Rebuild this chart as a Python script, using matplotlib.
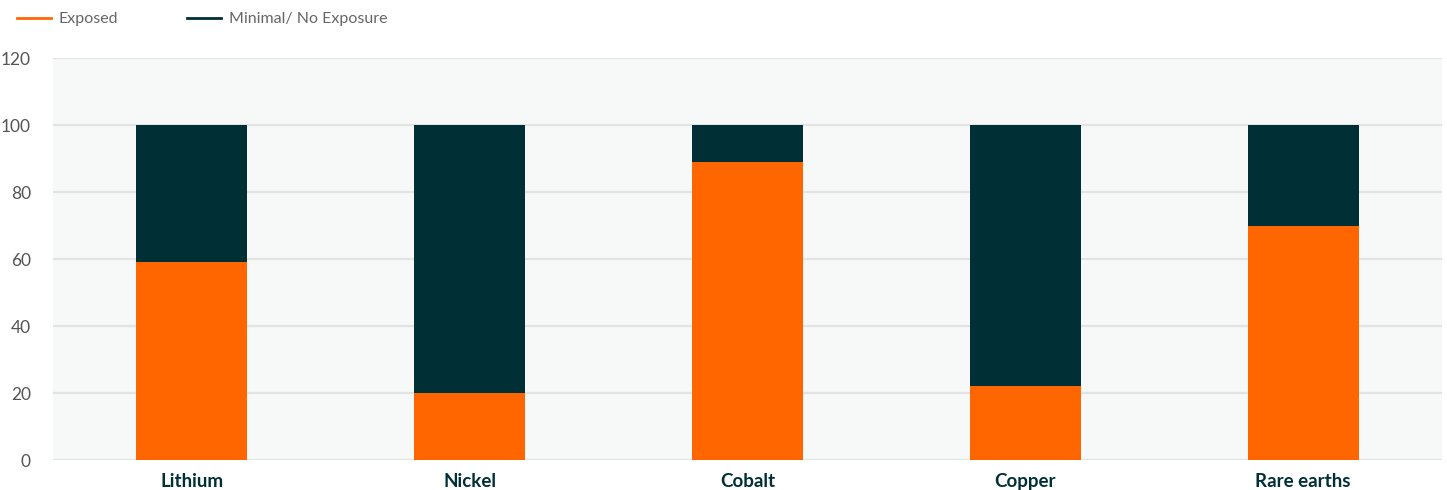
import matplotlib.pyplot as plt
from matplotlib.lines import Line2D

plt.rcParams['font.family'] = ['Lato', 'DejaVu Sans']

categories = ['Lithium', 'Nickel', 'Cobalt', 'Copper', 'Rare earths']
exposed = [59, 20, 89, 22, 70]
minimal = [41, 80, 11, 78, 30]

orange = '#ff6600'
dark = '#002f36'

fig = plt.figure(figsize=(14.47, 4.9), dpi=100)
ax = fig.add_axes([53 / 1447, 30 / 490, (1442 - 53) / 1447, (460 - 58) / 490])
ax.set_facecolor('#f7f9f9')

x = range(len(categories))
ax.bar(x, exposed, width=0.4, color=orange, zorder=3)
ax.bar(x, minimal, width=0.4, bottom=exposed, color=dark, zorder=3)

ax.set_xlim(-0.5, 4.5)
ax.set_ylim(0, 120)
ax.set_yticks(range(0, 121, 20))
ax.yaxis.grid(True, color='#e2e4e4', linewidth=1.6, zorder=0)
ax.set_axisbelow(True)
for s in ax.spines.values():
    s.set_visible(False)

ax.set_xticks(list(x))
ax.set_xticklabels(categories, fontsize=13.5, fontweight='bold', color=dark)
ax.tick_params(axis='x', length=0, pad=9)
ax.tick_params(axis='y', length=0, pad=16, labelsize=12.5, labelcolor='#555555')

handles = [Line2D([], [], color=orange, linewidth=2),
           Line2D([], [], color=dark, linewidth=2)]
fig.legend(handles, ['Exposed', 'Minimal/ No Exposure'], loc='upper left',
           bbox_to_anchor=(0.002, 1.005), ncol=2, frameon=False, fontsize=11.5,
           labelcolor='#666666', handlelength=2.1, handletextpad=0.5,
           columnspacing=4.3)

fig.savefig('out.png', dpi=100, facecolor='white')
